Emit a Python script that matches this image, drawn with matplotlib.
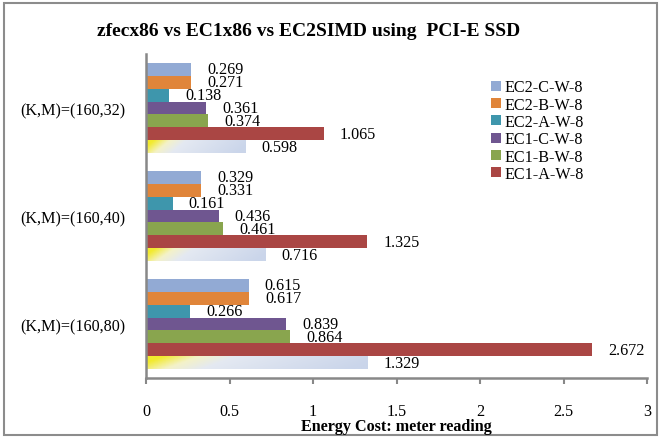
import numpy as np
import matplotlib
matplotlib.use('Agg')
import matplotlib.pyplot as plt
from matplotlib.patches import Patch, Rectangle
from matplotlib.colors import LinearSegmentedColormap

plt.rcParams['font.family'] = ['Liberation Serif', 'DejaVu Serif']

# energy readings per (K,M) configuration
groups = ['(K,M)=(160,32)', '(K,M)=(160,40)', '(K,M)=(160,80)']
ec2_c = [0.269, 0.329, 0.615]
ec2_b = [0.271, 0.331, 0.617]
ec2_a = [0.138, 0.161, 0.266]
ec1_c = [0.361, 0.436, 0.839]
ec1_b = [0.374, 0.461, 0.864]
ec1_a = [1.065, 1.325, 2.672]
zfec = [0.598, 0.716, 1.329]

series = [ec2_c, ec2_b, ec2_a, ec1_c, ec1_b, ec1_a]
names = ['EC2-C-W-8', 'EC2-B-W-8', 'EC2-A-W-8', 'EC1-C-W-8', 'EC1-B-W-8', 'EC1-A-W-8']
colors = ['#92AAD4', '#E0853A', '#3E96AC', '#6F5690', '#89A54E', '#AA4644']
xticks = [0, 0.5, 1, 1.5, 2, 2.5, 3]
xticklabels = ['0', '0.5', '1', '1.5', '2', '2.5', '3']

fs = 11.6

fig = plt.figure(figsize=(6.6, 4.39), dpi=100)
ax = fig.add_axes([146/660, 1-379/439, (647-146)/660, (379-55)/439])

h = 0.12
y = np.arange(len(groups))

for k, (vals, c) in enumerate(zip(series, colors)):
    pos = y + (k - 3) * h
    ax.barh(pos, vals, height=h, color=c, edgecolor='none', zorder=2)
    for p, v in zip(pos, vals):
        ax.annotate(f'{v:.3f}', (v, p), xytext=(11.5, 0), textcoords='offset points',
                    ha='left', va='center', fontsize=fs)

# zfec bars with the yellow -> pale blue fill
cmap = LinearSegmentedColormap.from_list('zf', [(0, '#F2EA2E'), (0.16, '#F4F2C8'),
                                                 (0.33, '#E4E9F2'), (1, '#CAD5EA')])
gx = np.linspace(0, 1, 200)
gy = np.linspace(0, 1, 20)
GX, GY = np.meshgrid(gx, gy)
grad = np.clip(GX + (GY - 0.5) * 0.15, 0, 1)
pos = y + 3 * h
for p, v in zip(pos, zfec):
    rect = Rectangle((0, p - h/2), v, h, facecolor='none', edgecolor='none')
    ax.add_patch(rect)
    im = ax.imshow(grad, cmap=cmap, extent=[0, v, p + h/2, p - h/2], aspect='auto',
                   interpolation='bilinear', zorder=2)
    im.set_clip_path(rect)
    ax.annotate(f'{v:.3f}', (v, p), xytext=(11.5, 0), textcoords='offset points',
                ha='left', va='center', fontsize=fs)

ax.set_xlim(0, 3)
ax.set_ylim(2.5, -0.5)
ax.set_aspect('auto')
ax.set_xticks(xticks)
ax.set_xticklabels(xticklabels, fontsize=fs)
ax.set_yticks(y)
ax.set_yticklabels(groups, fontsize=fs)
ax.tick_params(axis='y', length=0, pad=15)
ax.tick_params(axis='x', length=4, width=1.5, color='#888888', pad=14)
for s in ['top', 'right']:
    ax.spines[s].set_visible(False)
for s in ['left', 'bottom']:
    ax.spines[s].set_color('#888888')
    ax.spines[s].set_linewidth(1.8)

fig.text(396/660, 1-427/439, 'Energy Cost: meter reading', ha='center', va='center',
         fontsize=fs, fontweight='bold')

handles = [Patch(facecolor=c, edgecolor='none') for c in colors]
fig.legend(handles, names, loc='upper left', bbox_to_anchor=(485/660, 1-74/439),
           frameon=False, fontsize=fs, handlelength=0.6, handleheight=0.6,
           handletextpad=0.2, labelspacing=0.08, borderaxespad=0)

fig.text(309/660, 1-32/439, 'zfecx86 vs EC1x86 vs EC2SIMD using  PCI-E SSD',
         ha='center', va='center', fontsize=14, fontweight='bold')

# outer frame
fig.patches.append(Rectangle((3.5/660, 3/439), 653/660, 432.5/439, transform=fig.transFigure,
                             fill=False, edgecolor='#8C8C8C', linewidth=1.5))

fig.savefig('out.png', dpi=100)
